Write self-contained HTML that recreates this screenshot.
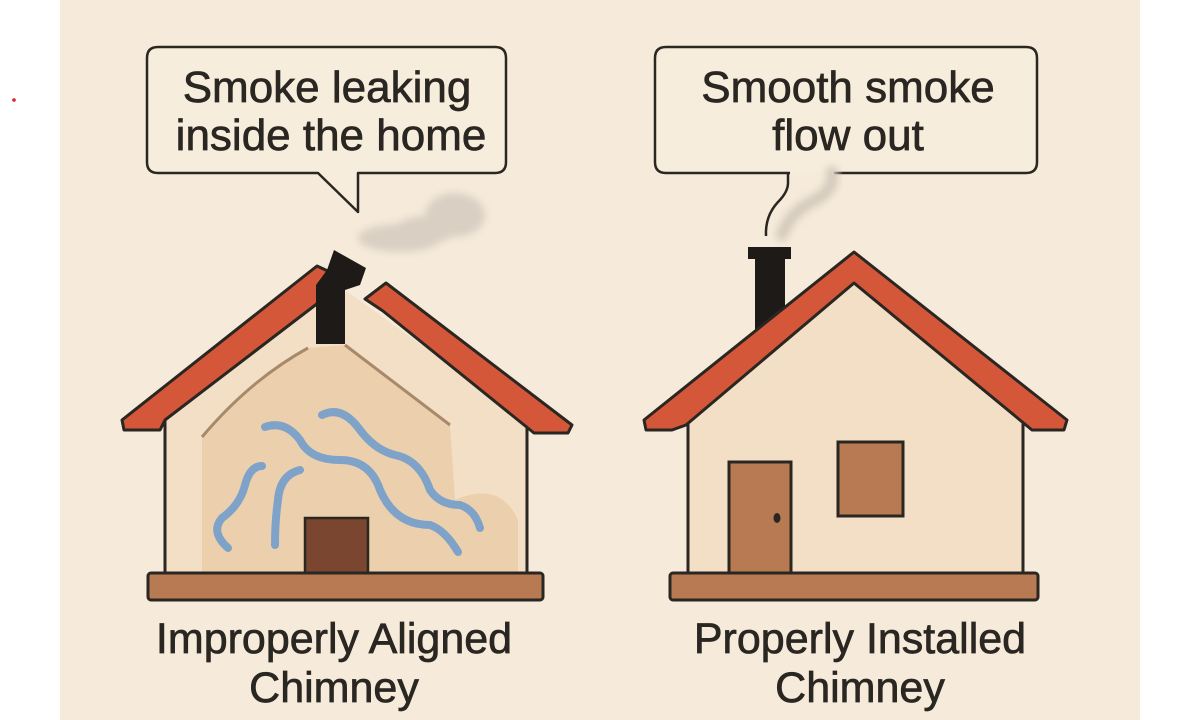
<!DOCTYPE html>
<html><head><meta charset="utf-8"><style>
html,body{margin:0;padding:0;background:#fff;}
svg{display:block;}
text{font-family:"Liberation Sans",sans-serif;fill:#2a2622;stroke:#2a2622;stroke-width:0.7;}
</style></head><body>
<svg width="1200" height="720" viewBox="0 0 1200 720" xmlns="http://www.w3.org/2000/svg">
<defs>
<filter id="blur" x="-20%" y="-20%" width="140%" height="140%"><feGaussianBlur stdDeviation="4"/></filter>
</defs>
<rect x="0" y="0" width="1200" height="720" fill="#fff"/>
<rect x="60" y="0" width="1080" height="720" fill="#f6ebda"/>
<circle cx="14" cy="100" r="1.8" fill="#d22"/>

<!-- Left bubble -->
<path d="M158 47 H495 Q506 47 506 58 V162 Q506 173 495 173 H358 V212 L318 173 H158 Q147 173 147 162 V58 Q147 47 158 47 Z" fill="#f7eddd" stroke="#2a2622" stroke-width="2.5" stroke-linejoin="round"/>
<text x="327" y="102" font-size="44" text-anchor="middle">Smoke leaking</text>
<text x="331" y="150" font-size="44" text-anchor="middle">inside the home</text>

<!-- Right bubble -->
<rect x="655" y="47" width="382" height="126" rx="11" fill="#f7eddd"/>
<path d="M834 173 H1026 Q1037 173 1037 162 V58 Q1037 47 1026 47 H666 Q655 47 655 58 V162 Q655 173 666 173 H790" fill="none" stroke="#2a2622" stroke-width="2.5"/>
<path d="M788 173 V183 Q788 192 778 202 Q765 216 766 236" fill="none" stroke="#2a2622" stroke-width="2.5"/>
<text x="848" y="102" font-size="44" text-anchor="middle">Smooth smoke</text>
<text x="848" y="150" font-size="44" text-anchor="middle">flow out</text>

<!-- smoke -->
<g filter="url(#blur)" fill="#d9cfc3">
<ellipse cx="400" cy="238" rx="42" ry="14"/>
<ellipse cx="455" cy="215" rx="30" ry="22"/>
<ellipse cx="425" cy="230" rx="30" ry="14"/>
</g>
<path d="M782 235 Q790 212 815 200 Q835 190 832 172" fill="none" stroke="#d4cabd" stroke-width="12" stroke-linecap="round" filter="url(#blur)"/>

<!-- LEFT HOUSE -->
<path d="M165 420 L318 290 L345 290 L527 420 V575 H165 Z" fill="#f3dfc5"/>
<path d="M202 437 Q250 380 308 348 L345 345 L450 425 L455 500 Q500 480 518 520 V575 H202 Z" fill="#ecd0ad"/>
<path d="M202 437 Q250 380 308 348" fill="none" stroke="#a88a6a" stroke-width="3"/>
<path d="M345 345 L450 425" fill="none" stroke="#a88a6a" stroke-width="3"/>
<line x1="165" y1="420" x2="165" y2="575" stroke="#2a2622" stroke-width="3"/>
<line x1="527" y1="420" x2="527" y2="575" stroke="#2a2622" stroke-width="3"/>
<!-- roof -->
<path d="M122 420 L317 266 L330 272 L335 290 L165 420 L160 430 L124 430 Z" fill="#d4573a" stroke="#2a2622" stroke-width="3" stroke-linejoin="round"/>
<path d="M365 299 L386 283 L572 425 L568 433 L534 433 L383 311 Z" fill="#d4573a" stroke="#2a2622" stroke-width="3" stroke-linejoin="round"/>
<!-- chimney -->
<path d="M316 344 V285 L327 270 L334 250 L366 268 L360 285 L345 290 V344 Z" fill="#1e1a17"/>
<!-- waves -->
<g fill="none" stroke="#7fa3c8" stroke-width="8" stroke-linecap="round">
<path d="M265 427 Q285 420 300 440 Q310 460 340 460 Q370 460 380 490 Q395 525 430 525 Q445 530 458 552"/>
<path d="M322 415 Q342 405 360 430 Q375 450 395 455 Q420 460 430 490 Q440 505 460 505 Q475 510 480 528"/>
<path d="M262 466 Q250 466 245 485 Q240 505 222 518 Q210 532 228 548"/>
<path d="M300 470 Q280 475 278 500 Q275 520 275 545"/>
</g>
<rect x="305" y="518" width="63" height="58" fill="#7a4630" stroke="#2a2622" stroke-width="2.5"/>
<rect x="148" y="573" width="395" height="27" rx="3" fill="#b87a52" stroke="#2a2622" stroke-width="3"/>

<!-- RIGHT HOUSE -->
<path d="M688 420 L854 282 L1023 420 V575 H688 Z" fill="#f3dfc5" stroke="#2a2622" stroke-width="3" stroke-linejoin="round"/>
<rect x="755" y="258" width="30" height="75" fill="#1e1a17"/>
<rect x="748" y="247" width="43" height="12" fill="#1e1a17"/>
<path d="M644 420 L854 252 L1067 420 L1064 430 L1032 430 L854 283 L686 425 L672 430 L646 430 Z" fill="#d4573a" stroke="#2a2622" stroke-width="3" stroke-linejoin="round"/>
<rect x="729" y="462" width="62" height="114" fill="#b87a52" stroke="#2a2622" stroke-width="3"/>
<ellipse cx="777" cy="518" rx="3.5" ry="5" fill="#2a2622"/>
<rect x="838" y="442" width="65" height="74" fill="#b87a52" stroke="#2a2622" stroke-width="3"/>
<rect x="670" y="573" width="368" height="27" rx="3" fill="#b87a52" stroke="#2a2622" stroke-width="3"/>

<!-- labels -->
<text x="334" y="653" font-size="43" text-anchor="middle">Improperly Aligned</text>
<text x="334" y="702" font-size="43" text-anchor="middle">Chimney</text>
<text x="860" y="653" font-size="43" text-anchor="middle">Properly Installed</text>
<text x="860" y="702" font-size="43" text-anchor="middle">Chimney</text>
</svg>
</body></html>
